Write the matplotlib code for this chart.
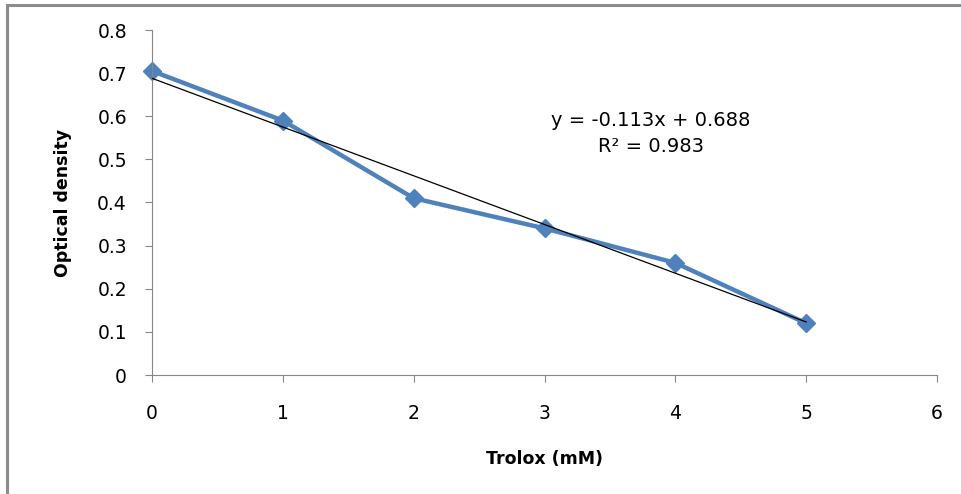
import numpy as np
import matplotlib.pyplot as plt
from matplotlib.patches import Rectangle

# data
trolox = [0, 1, 2, 3, 4, 5]
od = [0.705, 0.59, 0.41, 0.34, 0.26, 0.12]
slope, intercept = -0.113, 0.688

fig = plt.figure(figsize=(9.62, 4.94), dpi=100)
ax = fig.add_axes([152/962, 1-375/494, (937-152)/962, (375-30)/494])

# outer chart border (cut off at right / bottom like the source image)
fig.patches.append(Rectangle((7/962, -0.1), 1.2, 1 - 5/494 + 0.1, transform=fig.transFigure,
                             fill=False, edgecolor="#8c8c8c", linewidth=2.2))

ax.plot(trolox, od, color="#4F81BD", lw=3.2, marker="D", ms=9.5, zorder=2, clip_on=False)
xt = np.array([trolox[0], trolox[-1]])
ax.plot(xt, slope*xt + intercept, color="black", lw=0.9, zorder=3)

ax.set_xlim(0, 6)
ax.set_ylim(0, 0.8)
ax.set_xticks(range(0, 7))
ax.set_yticks(np.arange(0, 0.81, 0.1))
ax.set_yticklabels(["0", "0.1", "0.2", "0.3", "0.4", "0.5", "0.6", "0.7", "0.8"])

for s in ["top", "right"]:
    ax.spines[s].set_visible(False)
for s in ["left", "bottom"]:
    ax.spines[s].set_color("#868686")
ax.tick_params(axis="both", colors="#868686", labelcolor="black", labelsize=13.5, length=5)
ax.tick_params(axis="x", pad=16)
ax.tick_params(axis="y", pad=13)

ax.set_xlabel("Trolox (mM)", fontsize=12.5, fontweight="bold", labelpad=19)
ax.set_ylabel("Optical density", fontsize=12.5, fontweight="bold", labelpad=18)

ax.text(651/962, 1-120/494, "y = -0.113x + 0.688", transform=fig.transFigure,
        ha="center", va="center", fontsize=14)
ax.text(651/962, 1-147/494, "R² = 0.983", transform=fig.transFigure,
        ha="center", va="center", fontsize=14)

fig.savefig("out.png", dpi=100)
